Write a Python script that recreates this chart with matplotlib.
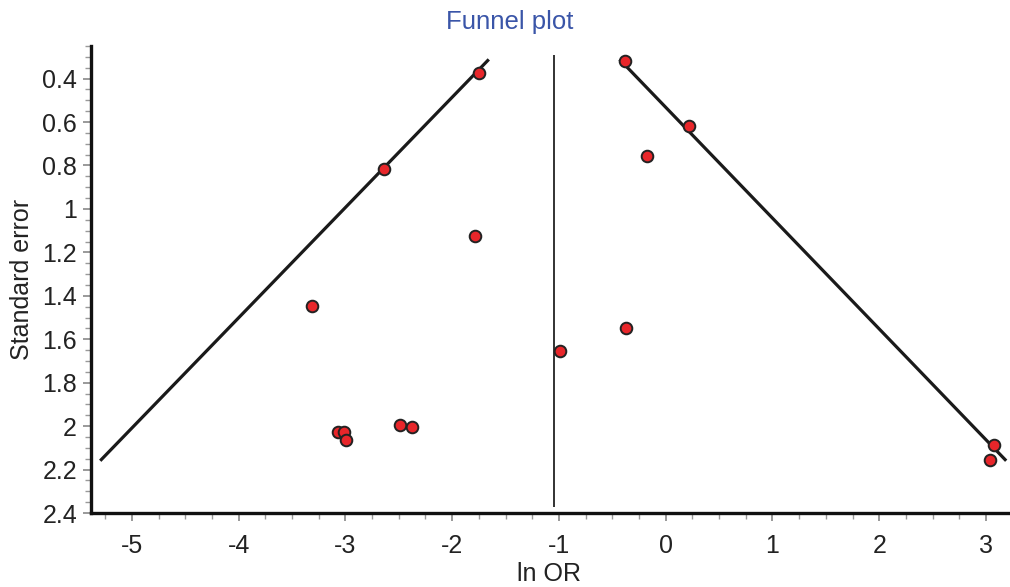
import numpy as np
import matplotlib
matplotlib.use('Agg')
import matplotlib.pyplot as plt
from matplotlib.ticker import MultipleLocator, FormatStrFormatter

# ln OR y error estandar de cada estudio
ln_or = [-1.747, -0.382, 0.221, -0.179, -2.64, -1.787, -3.314, -0.372, -0.99,
         -3.067, -3.014, -2.995, -2.493, -2.374, 3.075, 3.037]
se = [0.375, 0.317, 0.617, 0.756, 0.816, 1.125, 1.448, 1.547, 1.655,
      2.028, 2.028, 2.064, 1.996, 2.004, 2.085, 2.154]
pooled = -1.043

x_ticks = [-5, -4, -3, -2, -1, 0, 1, 2, 3]
y_ticks = [0.4, 0.6, 0.8, 1.0, 1.2, 1.4, 1.6, 1.8, 2.0, 2.2, 2.4]

plt.rcParams['font.family'] = ['Liberation Sans', 'DejaVu Sans']
plt.rcParams['axes.unicode_minus'] = False

fig = plt.figure(figsize=(10.1, 5.87), dpi=100)
ax = fig.add_axes([0.090, 0.126, 0.908, 0.796])

# lineas del embudo (pooled +/- 1.96*SE) entre el SE minimo y maximo
se_line = np.array([min(se), max(se)])
ax.plot(pooled - 1.97 * se_line, se_line, color='#1a1a1a', lw=2.3, zorder=2)
ax.plot(pooled + 1.96 * se_line, se_line, color='#1a1a1a', lw=2.3, zorder=2)
ax.vlines(pooled, 0.29, 2.37, color='#222222', lw=1.3, zorder=1)

ax.scatter(ln_or, se, s=70, color='#e8262a', edgecolor='#222222',
           linewidth=1.4, zorder=3)

ax.set_xlim(-5.384, 3.206)
ax.set_ylim(2.4, 0.249)

ax.set_xticks(x_ticks)
ax.set_yticks(y_ticks)
ax.xaxis.set_minor_locator(MultipleLocator(0.25))
ax.yaxis.set_minor_locator(MultipleLocator(0.05))
ax.yaxis.set_major_formatter(FormatStrFormatter('%g'))
ax.xaxis.set_major_formatter(FormatStrFormatter('%g'))

for s in ['top', 'right']:
    ax.spines[s].set_visible(False)
for s in ['left', 'bottom']:
    ax.spines[s].set_linewidth(2.4)
    ax.spines[s].set_color('#111111')

ax.tick_params(which='major', length=6, width=1.2, color='#888888',
               labelsize=18, labelcolor='#222222', pad=4)
ax.tick_params(which='minor', length=4, width=1.0, color='#999999')
ax.tick_params(axis='x', which='major', pad=9)

ax.set_xlabel('ln OR', fontsize=18, color='#222222', labelpad=3)
ax.set_ylabel('Standard error', fontsize=18, color='#222222', labelpad=6)
fig.text(0.505, 0.963, 'Funnel plot', ha='center', va='center',
         fontsize=18.5, color='#3a55a8')

fig.savefig('out.png', dpi=100)
